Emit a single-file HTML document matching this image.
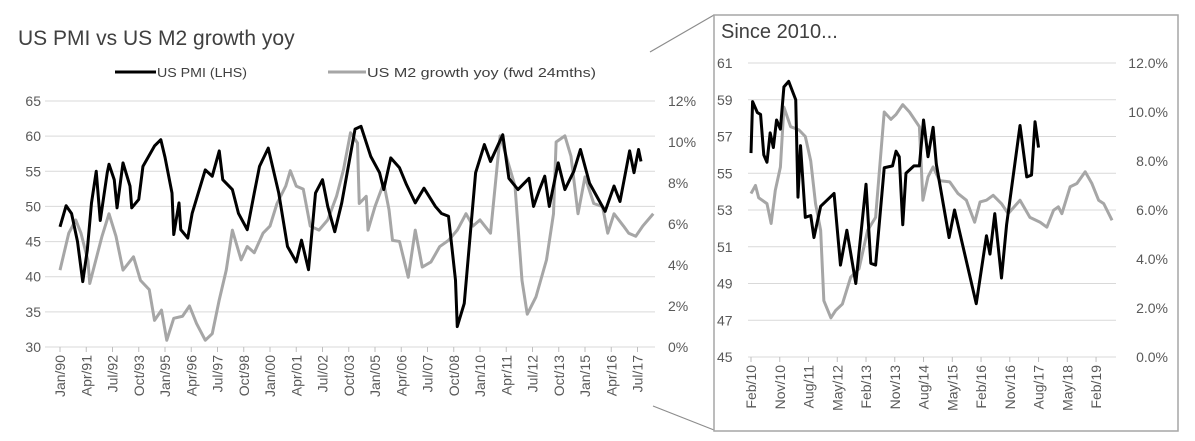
<!DOCTYPE html>
<html><head><meta charset="utf-8"><style>
html,body{margin:0;padding:0;background:#fff;}
svg{display:block;font-family:"Liberation Sans",sans-serif;}
</style></head><body>
<svg id="chart" width="1195" height="441" viewBox="0 0 1195 441">
<text x="18" y="45" font-size="21" fill="#404040">US PMI vs US M2 growth yoy</text>
<g>
<line x1="115" y1="72" x2="156" y2="72" stroke="#000" stroke-width="3"/>
<text x="157" y="77" font-size="13" fill="#404040" textLength="90" lengthAdjust="spacingAndGlyphs">US PMI (LHS)</text>
<line x1="328" y1="72" x2="366" y2="72" stroke="#a6a6a6" stroke-width="3"/>
<text x="367" y="77" font-size="13" fill="#404040" textLength="229" lengthAdjust="spacingAndGlyphs">US M2 growth yoy (fwd 24mths)</text>
</g>
<line x1="650" y1="52" x2="714" y2="15" stroke="#8c8c8c" stroke-width="1.2"/>
<line x1="653" y1="406" x2="714" y2="430" stroke="#8c8c8c" stroke-width="1.2"/>
<rect x="714" y="15" width="464" height="416" fill="none" stroke="#a6a6a6" stroke-width="1.5"/>
<text x="721" y="38" font-size="20" fill="#404040">Since 2010...</text>
<g id="main"></g>
<g id="inset"></g>
</svg>
<script>
// ---- Main chart data (months since Jan 1990) ----
const pmiMonths=[0,3.5,6.6,10,13,15.6,18,20.7,23,27,28,31,32.6,36,40,41,45,47.4,54,57.6,60,64,65,68,69,73,75.5,79,83,87,91,93,98.5,102,107,111,114,119,125,130,135,138,142,146,150,153,157,161,166,168.6,172,177.6,182.6,185,189,194,198,203,208,214.5,218,222,226,227,231,237.5,242.5,246,253,256.5,261.7,268,270.6,274,277,279.6,284.7,288.5,293.6,297.4,302.6,307.7,311.5,316.6,320,325.5,328,330.6,332];
const pmiValues=[47.1,50.1,49,45,39.3,43.8,50.5,55,48,54.8,56,53.8,49.8,56.2,52.9,49.8,51,55.7,58.6,59.5,57,51.9,46,50.5,46.7,45.5,49,51.9,55.2,54.3,57.9,53.8,52.4,49,46.7,51.9,55.7,58.3,51.9,44.3,42.1,45.2,41,51.9,53.8,50,46.4,50.5,57.4,61,61.4,57.1,54.8,52.4,56.9,55.5,53.1,50.5,52.6,50,49,48.6,39.5,32.9,36.2,54.8,58.8,56.4,60.2,54,52.4,54,50,52.4,54.3,50,56.2,52.4,55,58.1,53.3,51,49.3,52.9,50.7,57.9,54.8,58.1,56.4];
const m2Months=[0,5,9,12,16,17,24,28,32,36,42,46,51,54,58,61,65,70,74,78,83,87,91,95,98.5,103.5,107,111,116,120,124,129,131.6,135,139,143,148,153,158,162,166,170,171,175,176,180,185,188,190,194,199,203,207,212,217,222,227,232,236,240,246,251.5,255,260,264,267,272,278,282,283.5,288.5,292,296,300,305,310,313,316.6,322,325,329,333,339];
const m2Values=[3.75,5.55,6.2,5.55,4.2,3.1,5.4,6.5,5.4,3.75,4.4,3.25,2.8,1.3,1.8,0.33,1.4,1.5,2.0,1.15,0.33,0.65,2.3,3.75,5.7,4.25,4.9,4.6,5.55,5.9,7.0,7.85,8.6,7.85,7.7,5.9,5.7,6.2,7.35,8.65,10.45,9.95,7.0,7.35,5.7,6.85,8.0,6.7,5.2,5.15,3.4,5.7,3.9,4.15,4.9,5.2,5.7,6.5,5.9,6.2,5.55,10.3,9.3,7.85,3.25,1.6,2.45,4.25,6.5,10.0,10.3,9.3,6.5,8.3,7.0,6.85,5.55,6.5,5.9,5.55,5.4,5.9,6.5];
const mainLeftTicks=[30,35,40,45,50,55,60,65];
const mainRightTicks=["0%","2%","4%","6%","8%","10%","12%"];
const mainXLabels=["Jan/90","Apr/91","Jul/92","Oct/93","Jan/95","Apr/96","Jul/97","Oct/98","Jan/00","Apr/01","Jul/02","Oct/03","Jan/05","Apr/06","Jul/07","Oct/08","Jan/10","Apr/11","Jul/12","Oct/13","Jan/15","Apr/16","Jul/17"];
// ---- Inset data (months since Feb 2010) ----
const insetPmiMonths=[0,0.5,2,3,4,5,6,7,8,9.2,10.3,11.8,14,14.7,15.5,17,18.7,19.7,21.8,26,28,30,32.8,36,37.5,39,41.7,44.3,45.4,46.4,47.5,48.5,51,52.7,54,55.4,57,58,62,63.7,70.5,73.7,74.8,76.3,78.4,80,84.2,86.3,87.8,88.9,90];
const insetPmiValues=[56.1,58.9,58.3,58.2,56,55.6,57.2,56.4,57.9,57.4,59.7,60,59,53.7,56.5,52.6,52.7,51.5,53.2,53.9,50,51.9,49,54.4,50.1,50,55.3,55.4,56.2,55.9,52.2,55,55.4,55.4,57.9,55.9,57.5,55.5,51.5,53,47.9,51.6,50.6,52.8,49.3,52.2,57.6,54.8,54.9,57.8,56.4];
const insetM2Months=[0,1.4,2.4,5,6.3,7.6,9.2,10.3,12.4,15,17,18.7,20.2,21.8,22.8,25,26.5,28.6,31.2,33.8,36.5,39,41.7,43.8,45.4,47.5,49.6,52.7,53.8,55.4,57,59,62.2,64.8,67.4,70,71.7,73.7,75.8,78.4,80.5,84.2,87.3,90.5,92.6,94.7,96.2,97.3,99.9,102,104.6,106.7,108.8,110.4,113];
const insetM2Values=[6.67,7.0,6.5,6.26,5.45,6.8,7.75,10.2,9.4,9.27,9.0,8.0,6.26,5.17,2.3,1.6,1.9,2.16,3.26,3.6,5.17,5.7,10.0,9.7,9.9,10.3,10.0,9.4,6.4,7.35,7.76,7.2,7.15,6.67,6.4,5.5,6.33,6.4,6.6,6.26,5.85,6.4,5.7,5.5,5.3,5.99,6.13,5.85,6.95,7.08,7.56,7.08,6.4,6.26,5.58];
const insetLeftTicks=[45,47,49,51,53,55,57,59,61];
const insetRightTicks=["0.0%","2.0%","4.0%","6.0%","8.0%","10.0%","12.0%"];
const insetXLabels=["Feb/10","Nov/10","Aug/11","May/12","Feb/13","Nov/13","Aug/14","May/15","Feb/16","Nov/16","Aug/17","May/18","Feb/19"];

const NS="http://www.w3.org/2000/svg";
function mk(parent,tag,attrs,text){const e=document.createElementNS(NS,tag);for(const k in attrs)e.setAttribute(k,attrs[k]);if(text!==undefined)e.textContent=text;parent.appendChild(e);return e;}

function drawPanel(g,cfg){
  const yL=v=>cfg.y0-(v-cfg.lmin)/(cfg.lmax-cfg.lmin)*(cfg.y0-cfg.y1);
  const yR=v=>cfg.y0-v/cfg.rmax*(cfg.y0-cfg.y1);
  const x=m=>cfg.x0+m*cfg.ppm;
  cfg.leftTicks.forEach(t=>{
    const l=mk(g,'line',{x1:cfg.gx0,x2:cfg.gx1,y1:yL(t),y2:yL(t),stroke:'#d9d9d9','stroke-width':1});
    
    
    const tx=mk(g,'text',{x:cfg.lx,y:yL(t)+5,'font-size':cfg.fs,fill:'#595959','text-anchor':cfg.lanchor},String(t));
    
    
  });
  cfg.rightTicks.forEach((t,i)=>{
    const v=i*cfg.rmax/(cfg.rightTicks.length-1);
    const tx=mk(g,'text',{x:cfg.rx,y:yR(v)+5,'font-size':cfg.fs,fill:'#595959','text-anchor':cfg.ranchor},t);
    
    
  });
  cfg.xLabels.forEach((t,i)=>{
    const xx=x(i*cfg.step);
    const tk=mk(g,'line',{x1:xx,x2:xx,y1:cfg.y0,y2:cfg.y0+5,stroke:'#bfbfbf'});
    
    
    const tx=mk(g,'text',{x:0,y:0,'font-size':cfg.fs,fill:'#595959','text-anchor':'end',transform:`translate(${xx+5},${cfg.y0+8}) rotate(-90)`},t);
    
    
  });
  const m2=mk(g,'polyline',{points:cfg.m2m.map((m,i)=>x(m)+','+yR(cfg.m2v[i])).join(' '),fill:'none',stroke:'#a6a6a6','stroke-width':3,'stroke-linejoin':'round'});
  
  
  const p=mk(g,'polyline',{points:cfg.pm.map((m,i)=>x(m)+','+yL(cfg.pv[i])).join(' '),fill:'none',stroke:'#000','stroke-width':3,'stroke-linejoin':'round'});
  
  
}
const mainG=document.getElementById('main');


drawPanel(mainG,{y0:347,y1:101,lmin:30,lmax:65,rmax:12,x0:60,ppm:1.75,gx0:45,gx1:655,lx:41,lanchor:'end',rx:668,ranchor:'start',fs:14,
  leftTicks:mainLeftTicks,rightTicks:mainRightTicks,xLabels:mainXLabels,step:15,pm:pmiMonths,pv:pmiValues,m2m:m2Months,m2v:m2Values});
const insG=document.getElementById('inset');


drawPanel(insG,{y0:357,y1:63,lmin:45,lmax:61,rmax:12,x0:751,ppm:3.195,gx0:748,gx1:1116,lx:717,lanchor:'start',rx:1168,ranchor:'end',fs:14,
  leftTicks:insetLeftTicks,rightTicks:insetRightTicks,xLabels:insetXLabels,step:9,pm:insetPmiMonths,pv:insetPmiValues,m2m:insetM2Months,m2v:insetM2Values});
</script>
</body></html>
